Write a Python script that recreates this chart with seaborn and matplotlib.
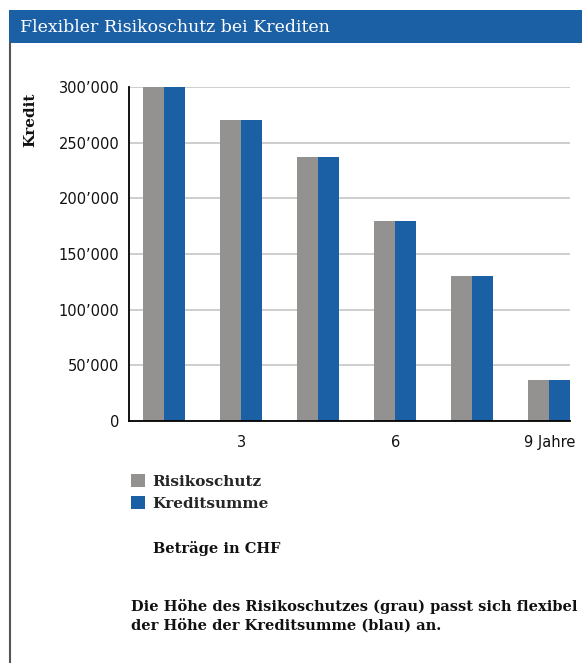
import matplotlib
matplotlib.use("Agg")
import matplotlib.pyplot as plt
from matplotlib.patches import Rectangle
from matplotlib.lines import Line2D
from matplotlib.ticker import FuncFormatter
import seaborn as sns
import pandas as pd

# ---- data ----
jahre = ["1.5", "3", "4.5", "6", "7.5", "9"]
risikoschutz = [300000, 270000, 237000, 180000, 130000, 37000]
kreditsumme = [300000, 270000, 237000, 180000, 130000, 37000]
serien = ["Risikoschutz", "Kreditsumme"]
x_ticklabels = ["", "3", "", "6", "", "9 Jahre"]
y_ticks = [0, 50000, 100000, 150000, 200000, 250000, 300000]

GRAY = "#939291"
BLUE = "#1b5fa5"

df = pd.DataFrame({
    "Jahr": jahre * 2,
    "Betrag": risikoschutz + kreditsumme,
    "Serie": [serien[0]] * len(jahre) + [serien[1]] * len(jahre),
})

sns.set_theme(style="white")
plt.rcParams["font.family"] = ["DejaVu Serif"]

W, H = 582, 663
fig = plt.figure(figsize=(W / 100, H / 100), dpi=100)
ax = fig.add_axes([129 / W, (H - 421) / H, 441 / W, 334 / H])

sns.barplot(data=df, x="Jahr", y="Betrag", hue="Serie", order=jahre,
            hue_order=serien, palette=[GRAY, BLUE], width=0.545, gap=0,
            saturation=1, ax=ax, legend=True, linewidth=0, edgecolor="none")

ax.set_xlim(-0.455, 5.27)
ax.set_ylim(0, 300000)
ax.set_yticks(y_ticks)
ax.yaxis.set_major_formatter(FuncFormatter(lambda v, p: f"{int(v):,}".replace(",", "\u2019")))
ax.set_xticks(range(len(jahre)))
ax.set_xticklabels(x_ticklabels)
ax.set_xlabel("")
ax.set_ylabel("")
ax.tick_params(axis="both", length=0, labelsize=10.5, colors="#111111")
ax.tick_params(axis="x", pad=10)
ax.tick_params(axis="y", pad=7)
for lab in ax.get_yticklabels() + ax.get_xticklabels():
    lab.set_family("DejaVu Sans")

ax.grid(axis="y", color="#c6c6c6", linewidth=1.2)
ax.grid(axis="x", visible=False)
ax.set_axisbelow(True)
for s in ["top", "right"]:
    ax.spines[s].set_visible(False)
for s in ["left", "bottom"]:
    ax.spines[s].set_color("black")
    ax.spines[s].set_linewidth(1.3)

# legend
sns.move_legend(ax, loc="upper left", bbox_to_anchor=(131 / W, 1 - 474 / H),
                bbox_transform=fig.transFigure, frameon=False, title=None,
                handlelength=0.9, handleheight=0.9, handletextpad=0.5,
                labelspacing=0.5, borderpad=0, borderaxespad=0,
                prop={"size": 11, "weight": "bold", "family": "DejaVu Serif"})

# y label
fig.text(30 / W, 1 - 120 / H, "Kredit", rotation=90, ha="center", va="center",
         fontsize=11, fontweight="bold", color="#111111")

# title bar
fig.patches.append(Rectangle((9 / W, 1 - 43 / H), 1 - 9 / W, 33 / H,
                             transform=fig.transFigure, facecolor=BLUE,
                             edgecolor="none", zorder=0))
fig.text(20 / W, 1 - 27 / H, "Flexibler Risikoschutz bei Krediten", ha="left",
         va="center", fontsize=12.5, color="white")
fig.lines.append(Line2D([10.5 / W, 10.5 / W], [0, 1 - 43 / H],
                        transform=fig.transFigure, color="#555555", linewidth=1.5))

# notes
fig.text(153 / W, 1 - 549 / H, "Beträge in CHF", ha="left", va="center",
         fontsize=10.5, fontweight="bold", color="#111111")
fig.text(131 / W, 1 - 616 / H,
         "Die Höhe des Risikoschutzes (grau) passt sich flexibel\nder Höhe der Kreditsumme (blau) an.",
         ha="left", va="center", fontsize=10.5, fontweight="bold",
         color="#111111", linespacing=1.35)

fig.savefig("out.png", dpi=100)
